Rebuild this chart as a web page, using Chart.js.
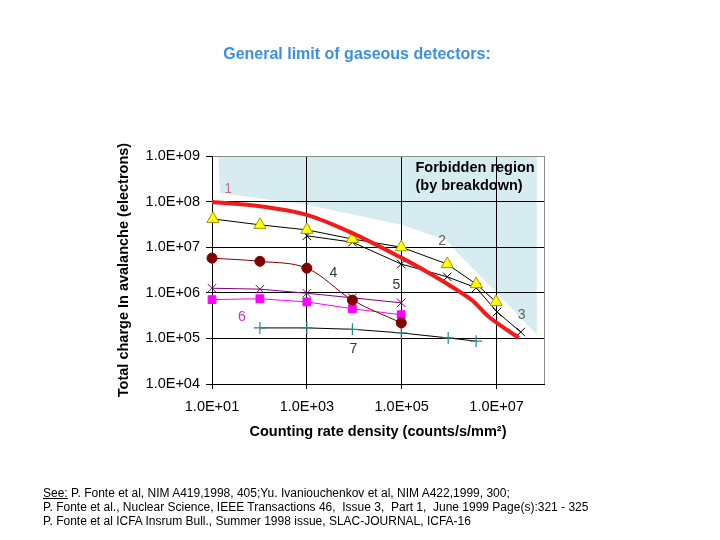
<!DOCTYPE html>
<html>
<head>
<meta charset="utf-8">
<script src="https://cdn.jsdelivr.net/npm/chart.js@4.4.1/dist/chart.umd.min.js"></script>
<style>
  html, body { margin: 0; padding: 0; background: #ffffff; }
  #wrap { position: relative; width: 720px; height: 540px; overflow: hidden; }
  #c { position: absolute; left: 0; top: 0; }
  #title { position: absolute; left: 0; width: 714px; top: 45px; text-align: center;
           font: bold 16px "Liberation Sans", Arial, sans-serif; color: #3d8fe0; }
  #notes { position: absolute; left: 43px; top: 486px; font: 12px/14px "Liberation Sans", Arial, sans-serif;
           color: #000; white-space: pre; }
  #notes u { text-decoration: underline; }
</style>
</head>
<body>
<div id="wrap">
  <canvas id="c" width="720" height="540"></canvas>
  <div id="title">General limit of gaseous detectors:</div>
  <div id="notes"><u>See:</u> P. Fonte et al, NIM A419,1998, 405;Yu. Ivaniouchenkov et al, NIM A422,1999, 300;
P. Fonte et al., Nuclear Science, IEEE Transactions 46,  Issue 3,  Part 1,  June 1999 Page(s):321 - 325
P. Fonte et al ICFA Insrum Bull., Summer 1998 issue, SLAC-JOURNAL, ICFA-16</div>
</div>
<script>
// ---- data (log10 of values) ----
const yTicks = [1e4, 1e5, 1e6, 1e7, 1e8, 1e9];
const xTicks = [1e1, 1e3, 1e5, 1e7, 1e8];

// Forbidden region lower boundary
const forbidX = [1.13, 1.17, 3.0, 4.99, 5.94, 6.2, 6.99, 7.85];
const forbidY = [8.91, 8.19, 7.93, 7.49, 7.16, 6.85, 6.02, 5.08];

// 1: general limit (thick red)
const s1X = [1.0, 2.01, 3.0, 3.96, 5.01, 5.6, 5.94, 6.48, 6.84, 7.47];
const s1Y = [7.99, 7.90, 7.71, 7.31, 6.76, 6.42, 6.21, 5.84, 5.47, 5.01];
// 2: yellow triangles
const s2X = [1.02, 2.01, 3.0, 3.96, 4.99, 5.96, 6.57, 6.99];
const s2Y = [7.62, 7.49, 7.38, 7.18, 7.00, 6.63, 6.19, 5.80];
// 3: black crosses
const s3X = [3.0, 3.96, 4.99, 5.96, 6.57, 7.01, 7.51];
const s3Y = [7.25, 7.11, 6.63, 6.35, 6.11, 5.58, 5.14];
// 4: dark red circles
const s4X = [1.0, 2.01, 3.0, 3.96, 4.99];
const s4Y = [6.76, 6.69, 6.54, 5.84, 5.34];
// 5: purple stars
const s5X = [1.0, 2.01, 3.0, 3.96, 4.99];
const s5Y = [6.10, 6.08, 5.99, 5.89, 5.78];
// 6: magenta squares
const s6X = [1.0, 2.01, 3.0, 3.96, 4.99];
const s6Y = [5.85, 5.87, 5.80, 5.65, 5.52];
// 7: teal plus
const s7X = [2.01, 3.0, 3.96, 4.99, 5.98, 6.57];
const s7Y = [5.23, 5.23, 5.20, 5.12, 5.01, 4.94];

// curve labels
const labelText = ["1", "2", "3", "4", "5", "6", "7"];
const labelX = [1.34, 5.85, 7.53, 3.56, 4.89, 1.63, 3.98];
const labelY = [8.28, 7.14, 5.51, 6.43, 6.17, 5.47, 4.77];
const labelColor = ["#c8707a", "#606060", "#606060", "#333333", "#333333", "#d030d0", "#333333"];

const regionText = ["Forbidden region", "(by breakdown)"];
const regionX = [5.29, 5.29];
const regionY = [8.74, 8.35];

const pts = (xs, ys) => xs.map((x, i) => ({ x: Math.pow(10, x), y: Math.pow(10, ys[i]) }));

const FONT = '"Liberation Sans", Arial, sans-serif';

const labelsPlugin = {
  id: 'labels',
  afterDatasetsDraw(chart) {
    const { ctx, scales } = chart;
    ctx.save();
    ctx.textBaseline = 'middle';
    ctx.textAlign = 'center';
    ctx.font = '14px ' + FONT;
    labelText.forEach((t, i) => {
      ctx.fillStyle = labelColor[i];
      ctx.fillText(t, scales.x.getPixelForValue(Math.pow(10, labelX[i])), scales.y.getPixelForValue(Math.pow(10, labelY[i])));
    });
    ctx.textAlign = 'left';
    ctx.fillStyle = '#000';
    ctx.font = 'bold 14.5px ' + FONT;
    regionText.forEach((t, i) => {
      ctx.fillText(t, scales.x.getPixelForValue(Math.pow(10, regionX[i])), scales.y.getPixelForValue(Math.pow(10, regionY[i])));
    });
    ctx.restore();
  }
};

const supExp = v => { const e = Math.round(Math.log10(v)); return '1.0E+' + (e < 10 ? '0' : '') + e; };

new Chart(document.getElementById('c'), {
  type: 'scatter',
  data: {
    datasets: [
      { data: pts(forbidX, forbidY), showLine: true, fill: 'end', backgroundColor: '#d7ecf0',
        borderColor: 'rgba(0,0,0,0)', borderWidth: 0, pointRadius: 0, order: 10 },
      { data: pts(s7X, s7Y), showLine: true, clip: false, borderColor: '#000', borderWidth: 1, pointStyle: 'cross',
        pointRadius: 6, pointBorderColor: '#2e8b8b', pointBorderWidth: 1.2, order: 7 },
      { data: pts(s6X, s6Y), showLine: true, clip: false, borderColor: '#ff00ff', borderWidth: 1, pointStyle: 'rect',
        pointRadius: 5.5, pointBackgroundColor: '#ff00ff', pointBorderColor: '#ff00ff', order: 6 },
      { data: pts(s5X, s5Y), showLine: true, clip: false, borderColor: '#800080', borderWidth: 1, pointStyle: 'crossRot',
        pointRadius: 6, pointBorderColor: '#800080', pointBorderWidth: 1, order: 5 },
      { data: pts(s4X, s4Y), showLine: true, clip: false, borderColor: '#800000', borderWidth: 1, tension: 0.35, pointStyle: 'circle',
        pointRadius: 5, pointBackgroundColor: '#800000', pointBorderColor: '#800000', order: 4 },
      { data: pts(s3X, s3Y), showLine: true, clip: false, borderColor: '#000', borderWidth: 1, pointStyle: 'crossRot',
        pointRadius: 6, pointBorderColor: '#000', pointBorderWidth: 1, order: 3 },
      { data: pts(s2X, s2Y), showLine: true, clip: false, borderColor: '#000', borderWidth: 1, pointStyle: 'triangle',
        pointRadius: 7, pointBackgroundColor: '#ffff00', pointBorderColor: '#9a9a00', pointBorderWidth: 1, order: 2 },
      { data: pts(s1X, s1Y), showLine: true, clip: false, borderColor: '#ee1c1c', borderWidth: 4, tension: 0.3,
        pointRadius: 0, order: 1 }
    ]
  },
  options: {
    responsive: false,
    animation: false,
    events: [],
    layout: { padding: { left: 111, right: 176, top: 156, bottom: 95 } },
    plugins: {
      legend: { display: false },
      tooltip: { enabled: false },
      filler: { drawTime: 'beforeDraw' }
    },
    scales: {
      x: {
        type: 'logarithmic', min: 10, max: 1e8,
        afterBuildTicks: s => { s.ticks = xTicks.map(v => ({ value: v })); },
        afterFit: s => { s.height = 61; },
        ticks: {
          autoSkip: false, maxRotation: 0, padding: 9, color: '#000',
          font: { family: FONT, size: 14.5 },
          callback: v => (v >= 1e8 ? '' : supExp(v))
        },
        grid: {
          color: c => (c.tick && c.tick.value >= 1e8 ? '#8c8c8c' : '#000'),
          tickColor: c => (c.tick && c.tick.value >= 1e8 ? 'rgba(0,0,0,0)' : '#000'),
          lineWidth: 1, tickLength: 5
        },
        border: { display: true, color: '#000' },
        title: { display: true, text: 'Counting rate density (counts/s/mm\u00B2)', color: '#000',
                 font: { family: FONT, size: 14.5, weight: 'bold' }, padding: 4 }
      },
      y: {
        type: 'logarithmic', min: 1e4, max: 1e9,
        afterBuildTicks: s => { s.ticks = yTicks.map(v => ({ value: v })); },
        afterFit: s => { s.width = 101; },
        ticks: {
          autoSkip: false, padding: 6, color: '#000',
          font: { family: FONT, size: 14.5 },
          callback: v => supExp(v)
        },
        grid: {
          color: c => (c.tick && c.tick.value >= 1e9 ? '#8c8c8c' : '#000'),
          tickColor: '#000',
          lineWidth: 1, tickLength: 6
        },
        border: { display: true, color: '#000' },
        title: { display: true, text: 'Total charge In avalanche (electrons)', color: '#000',
                 font: { family: FONT, size: 14.5, weight: 'bold' }, padding: 4 }
      }
    }
  },
  plugins: [labelsPlugin]
});
</script>
</body>
</html>
